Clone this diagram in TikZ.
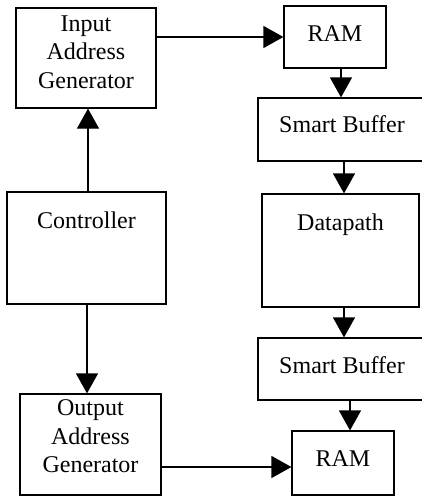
\documentclass[tikz,border=0pt]{standalone}
\usepackage{fontspec}
\setmainfont{Liberation Serif}
\usetikzlibrary{arrows.meta,calc}
\begin{document}
\begin{tikzpicture}[x=1pt,y=-1pt,
  box/.style={draw,line width=1.2pt,rectangle,inner sep=0pt},
  txt/.style={inner sep=0pt,font=\fontsize{24}{28.5}\selectfont,align=center},
  arr/.style={line width=1.2pt,-{Triangle[length=20pt,width=22pt]}}]
\useasboundingbox (0,0) rectangle (422,496);
\clip (0,0) rectangle (422,496);
% boxes
\node[box,minimum width=140pt,minimum height=100pt] (iag) at (86,58) {};
\node[box,minimum width=159pt,minimum height=112pt] (ctrl) at (86.5,248) {};
\node[box,minimum width=141pt,minimum height=101pt] (oag) at (90.5,444.5) {};
\node[box,minimum width=102pt,minimum height=62pt] (ram1) at (335,37) {};
\node[box,minimum width=168pt,minimum height=63pt] (sb1) at (342,129.5) {};
\node[box,minimum width=157pt,minimum height=113pt] (dp) at (340.5,250.5) {};
\node[box,minimum width=168pt,minimum height=62pt] (sb2) at (342,369) {};
\node[box,minimum width=102pt,minimum height=64pt] (ram2) at (343,463) {};
% texts
\node[txt] (tiag) at (86,52) {Input\\Address\\Generator};
\node[txt] (toag) at (90.5,436.5) {Output\\Address\\Generator};
\node[txt,anchor=base] (tctrl) at (86.5,228) {Controller};
\node[txt,anchor=base] (tdp) at (340.5,230) {Datapath};
\node[txt,anchor=base] (tram1) at (335,41) {RAM};
\node[txt,anchor=base] (tsb1) at (342,132) {Smart Buffer};
\node[txt,anchor=base] (tsb2) at (342,373) {Smart Buffer};
\node[txt,anchor=base] (tram2) at (343,466) {RAM};
% connectors
\coordinate (r2in) at ($(ram2.west)+(0,4)$);
\draw[arr] ([xshift=1.5pt]ctrl.north) -- ([xshift=1.5pt]ctrl.north |- iag.south);
\draw[arr] ([xshift=0.5pt]ctrl.south) -- ([xshift=0.5pt]ctrl.south |- oag.north);
\draw[arr] (iag.east |- ram1.west) -- (ram1.west);
\draw[arr] ([xshift=6pt]ram1.south) -- ([xshift=6pt]ram1.south |- sb1.north);
\draw[arr] ([xshift=2pt]sb1.south) -- ([xshift=2pt]sb1.south |- dp.north);
\draw[arr] ([xshift=2pt]sb2.north |- dp.south) -- ([xshift=2pt]sb2.north);
\draw[arr] ([xshift=8pt]sb2.south) -- ([xshift=8pt]sb2.south |- ram2.north);
\draw[arr] (r2in -| oag.east) -- (r2in);
\end{tikzpicture}
\end{document}
